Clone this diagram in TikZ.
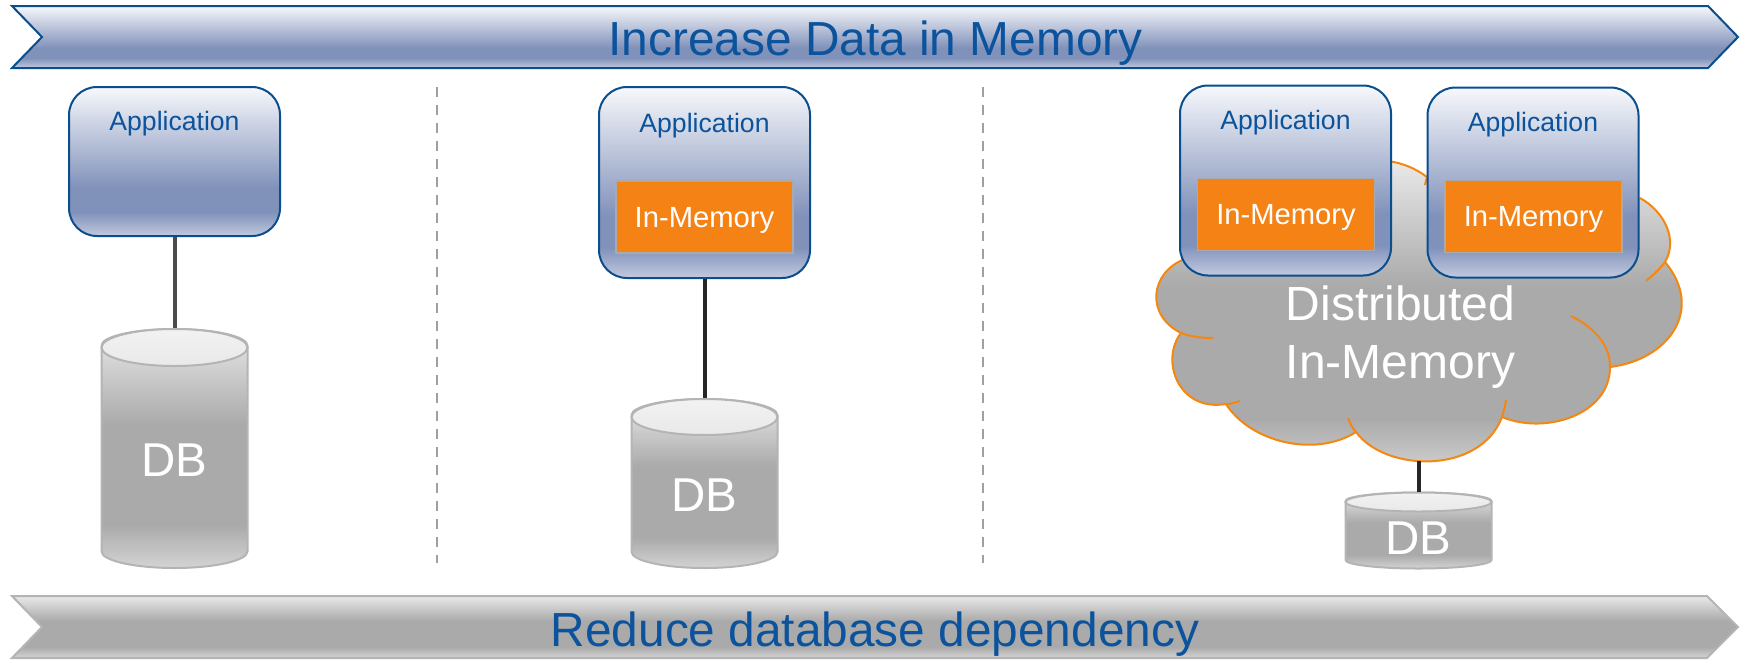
\documentclass[tikz,border=0pt]{standalone}
\usepackage{fontspec}
\setmainfont{Liberation Sans}
\usepackage{xcolor}
\usetikzlibrary{shapes.geometric}
\definecolor{myblue}{HTML}{0B539C}
\definecolor{myedge}{HTML}{0A4E8E}
\definecolor{myorange}{HTML}{F58214}
\definecolor{mycloudline}{HTML}{F5860F}
\definecolor{mygray}{HTML}{AAAAAA}
\definecolor{mygrayline}{HTML}{B4B4B4}
\definecolor{mydash}{HTML}{A0A0A0}
\definecolor{bluetop}{HTML}{F7F8FB}
\definecolor{bluemid}{HTML}{8091BA}
\definecolor{bluelow}{HTML}{C3CADF}
\definecolor{graytop}{HTML}{E9E9E9}
\definecolor{graylow}{HTML}{D4D4D4}
\pgfdeclareverticalshading{bluegrad}{100bp}{color(0bp)=(bluelow); color(25bp)=(bluelow); color(33bp)=(bluemid); color(41bp)=(bluemid); color(75bp)=(bluetop); color(100bp)=(bluetop)}
\pgfdeclareverticalshading{graygrad}{100bp}{color(0bp)=(graylow); color(25bp)=(graylow); color(34bp)=(mygray); color(55bp)=(mygray); color(75bp)=(graytop); color(100bp)=(graytop)}
\tikzset{
  appbox/.style={rectangle, rounded corners=28pt, draw=myedge, line width=2pt, shade, shading=bluegrad, minimum width=211pt, minimum height=190pt, inner sep=0pt},
  apptext/.style={text=myblue, font=\fontsize{26.6}{30}\selectfont, inner sep=0pt},
  membox/.style={rectangle, draw=mygray, line width=1.5pt, fill=myorange, text=white, font=\fontsize{29.2}{34}\selectfont, text depth=0pt, minimum width=177pt, minimum height=72pt, inner sep=0pt},
  dbbody/.style={cylinder, shape border rotate=90, draw=mygrayline, line width=2pt, shade, shading=graygrad, text=white, font=\fontsize{47.5}{54}\selectfont, text height=38pt, minimum width=146pt, inner sep=0pt, anchor=top},
  dbtop/.style={ellipse, draw=mygrayline, line width=2pt, top color=graytop!60!white, bottom color=graytop, minimum width=146pt, inner sep=0pt, anchor=north},
  link/.style={line width=4pt},
  divider/.style={draw=mydash, line width=2.5pt, dash pattern=on 10pt off 8pt},
  band/.style={line width=2pt, line join=miter},
  bandtext/.style={text=myblue, font=\fontsize{47.8}{54}\selectfont, inner sep=0pt},
  cloudline/.style={draw=mycloudline, line width=2pt}
}
\begin{document}
\begin{tikzpicture}[x=1pt, y=-1pt]
\useasboundingbox (0,0) rectangle (1747,659);
% banners
\draw[band, draw=myedge, shade, shading=bluegrad] (12,6) -- (1708,6) -- (1738,37) -- (1708,68) -- (12,68) -- (42,37) -- cycle;
\node[bandtext] (increase) at (875.5,43.5) {Increase Data in Memory};
\draw[band, draw=mygrayline, shade, shading=graygrad] (12,596) -- (1707,596) -- (1738,627) -- (1707,658) -- (12,658) -- (42,627) -- cycle;
\node[bandtext] (reduce) at (875,634.5) {Reduce database dependency};
\draw[divider] (437,87) -- (437,563);
\draw[divider] (983,87) -- (983,563);
% left column
\node[appbox, minimum height=149pt] (app1) at (174.5,161.5) {};
\node[apptext] (apptext1) at (174.5,124) {Application};
\node[dbbody, minimum height=239pt, aspect=0.503] (db1) at (174.5,328) {DB};
\node[dbtop, minimum height=37pt] (dbtop1) at (db1.top) {};
\draw[link, draw=black!70] (app1.south) -- (dbtop1.north);
% middle column
\node[appbox, minimum height=191pt] (app2) at (704.5,182.5) {};
\node[apptext] (apptext2) at (704.5,126) {Application};
\node[membox] (mem2) at (704.5,217) {In-Memory};
\node[dbbody, minimum height=169pt, aspect=0.49] (db2) at (704.5,398) {DB};
\node[dbtop, minimum height=36pt] (dbtop2) at (db2.top) {};
\draw[link, draw=black!85] (app2.south) -- (dbtop2.north);
% right column
\coordinate (cloudlow) at (1418.5,461);
\path[shade, shading=graygrad] (1185,259) .. controls (1150,272) and (1145,315) .. (1181,333)
  .. controls (1160,360) and (1178,412) .. (1226,404)
  .. controls (1250,442) and (1315,458) .. (1356,432)
  .. controls (1385,472) and (1480,475) .. (1502,417)
  .. controls (1545,435) and (1610,415) .. (1610,367)
  .. controls (1668,360) and (1705,310) .. (1665,262)
  .. controls (1678,240) and (1665,212) .. (1640,198)
  -- (1427,177) .. controls (1415,168) and (1402,163) .. (1388,161) -- cycle;
\draw[cloudline] (1185,259) .. controls (1150,272) and (1145,315) .. (1181,333)
  .. controls (1160,360) and (1178,412) .. (1226,404)
  .. controls (1250,442) and (1315,458) .. (1356,432)
  .. controls (1385,472) and (1480,475) .. (1502,417)
  .. controls (1545,435) and (1610,415) .. (1610,367)
  .. controls (1668,360) and (1705,310) .. (1665,262)
  .. controls (1678,240) and (1665,212) .. (1640,198);
\draw[cloudline] (1425,185) -- (1427,177) .. controls (1415,168) and (1402,163) .. (1388,161);
\draw[cloudline] (1181,333) .. controls (1192,337) and (1202,338) .. (1213,338);
\draw[cloudline] (1226,404) .. controls (1232,404) and (1236,402) .. (1240,401);
\draw[cloudline] (1356,432) .. controls (1352,428) and (1350,423) .. (1348,418);
\draw[cloudline] (1502,417) .. controls (1504,411) and (1505,406) .. (1506,400);
\draw[cloudline] (1610,367) .. controls (1610,345) and (1595,328) .. (1571,316);
\draw[cloudline] (1665,262) .. controls (1660,269) and (1653,275) .. (1646,281);
\node[text=white, align=center, font=\fontsize{48}{58}\selectfont, inner sep=0pt] (dist) at (1400.5,337.5) {Distributed\\In-Memory};
\node[appbox] (app3) at (1285.5,180.5) {};
\node[apptext] (apptext3) at (1285.5,123) {Application};
\node[membox] (mem3) at (1286,214.5) {In-Memory};
\node[appbox] (app4) at (1533,182.5) {};
\node[apptext] (apptext4) at (1533,125) {Application};
\node[membox] (mem4) at (1533.5,216.5) {In-Memory};
\node[dbbody, minimum height=76pt, aspect=0.258] (db3) at (1418.5,491.5) {DB};
\node[dbtop, minimum height=19pt] (dbtop3) at (db3.top) {};
\draw[link, draw=black!85] (cloudlow) -- (dbtop3.north);
\end{tikzpicture}
\end{document}
